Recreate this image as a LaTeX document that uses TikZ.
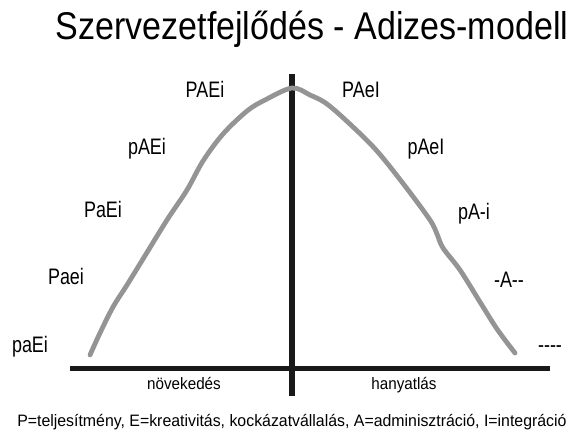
\documentclass[tikz,border=0pt]{standalone}
\usepackage{fontspec}
\setmainfont{Liberation Sans}
\newfontfamily\titlefam{Liberation Sans}[FakeStretch=0.88]
\newfontfamily\stagefam{Liberation Sans}[FakeStretch=0.8]
\newfontfamily\notefam{Liberation Sans}[FakeStretch=0.92]
\newfontfamily\legendfam{Liberation Sans}[FakeStretch=0.96]
\usetikzlibrary{positioning}

\tikzset{
  axisline/.style={line width=3.8pt, draw=black!90},
  lifecurve/.style={line width=3.6pt, draw=black!42, line join=round, line cap=round},
  stage/.style={font=\stagefam\fontsize{16.8}{19}\selectfont, inner sep=0pt, anchor=base},
  small/.style={font=\notefam\fontsize{12.4}{14}\selectfont, inner sep=0pt, anchor=base}
}

\begin{document}
\begin{tikzpicture}[x=0.75pt, y=-0.75pt]
% fix the page to the size of the picture
\useasboundingbox (0,0) rectangle (569,438);

% title
\node[font=\titlefam\fontsize{29}{32}\selectfont, inner sep=0pt, anchor=base] (title) at (312,40) {Szervezetfejlődés - Adizes-modell};

% the two axes
\coordinate (top) at (292,74);
\coordinate (bottom) at (292,396);
\coordinate (left) at (70,368.5);
\coordinate (right) at (550,368.5);
\draw[axisline] (top) -- (bottom);
\draw[axisline] (left) -- (right);

% the life curve
\draw[lifecurve] plot[smooth, tension=0.55] coordinates {
  (90,355) (100,333) (113,307) (127,285) (143,259) (167,220)
  (187,190) (203,161) (223,134) (247,111) (265,100) (292,88)
  (310,95) (327,104) (352,126) (377,151) (405,186) (430,220)
  (437,234) (443,248) (460,270) (480,302) (497,329) (515,353)};

% stages on the way up
\node[stage] (s1) at (205,98) {PAEi};
\node[stage] (s2) at (147,155) {pAEi};
\node[stage] (s3) at (103,218) {PaEi};
\node[stage] (s4) at (66,285) {Paei};
\node[stage] (s5) at (30,353) {paEi};

% stages on the way down
\node[stage] (d1) at (361,98) {PAeI};
\node[stage] (d2) at (426,155) {pAeI};
\node[stage] (d3) at (474,220) {pA-i};
\node[stage] (d4) at (509,288) {-A-{}-};
\node[stage] (d5) at (550,353) {-{}-{}-{}-};

% axis labels
\node[small] (grow) at (184,390) {növekedés};
\node[small] (fall) at (404,390) {hanyatlás};

% legend, runs off the right edge as in the original
\node[small, font=\legendfam\fontsize{12.4}{14}\selectfont, anchor=base west] (legend) at (17,427) {P=teljesítmény, E=kreativitás, kockázatvállalás, A=adminisztráció, I=integráció};
\end{tikzpicture}
\end{document}
